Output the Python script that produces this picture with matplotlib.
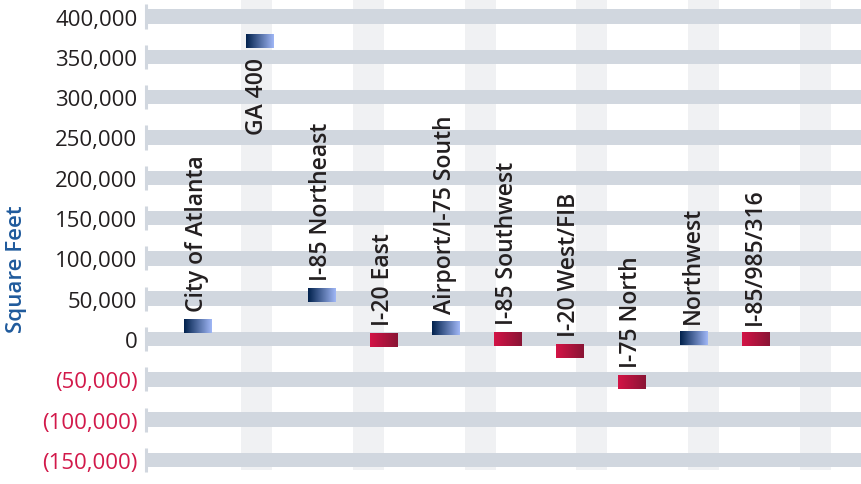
import matplotlib
matplotlib.use("Agg")
import matplotlib.pyplot as plt
import numpy as np
from matplotlib.colors import LinearSegmentedColormap
from matplotlib.patches import Rectangle
from matplotlib.ticker import FuncFormatter
import matplotlib.transforms as mtransforms

# Net absorption by submarket (square feet)
submarkets = [
    "City of Atlanta", "GA 400", "I-85 Northeast", "I-20 East",
    "Airport/I-75 South", "I-85 Southwest", "I-20 West/FIB",
    "I-75 North", "Northwest", "I-85/985/316",
]
absorption = [16500, 369000, 54000, -1500, 13000, -500, -15000, -53000, 1500, -500]
y_ticks = [-150000, -100000, -50000, 0, 50000, 100000, 150000,
           200000, 250000, 300000, 350000, 400000]

BAND = "#d1d7df"
STRIPE = "#f0f1f3"
TEXT = "#231f20"
NEG = "#d2194a"
BLUE_LABEL = "#1f5a9c"

plt.rcParams["font.family"] = ["Open Sans", "DejaVu Sans"]

blue_cmap = LinearSegmentedColormap.from_list("pos", ["#02224e", "#9fb6f5"])
red_cmap = LinearSegmentedColormap.from_list("neg", ["#d31346", "#8a1535"])
gradient = np.linspace(0, 1, 64).reshape(1, -1)

fig = plt.figure(figsize=(8.61, 4.85), dpi=100)
ax = fig.add_axes([147 / 861, 14 / 485, 714 / 861, 471 / 485])

x = np.arange(len(submarkets))
bar_w = 0.45
bar_h = 17000

# light vertical stripes in the background
for i in range(6):
    ax.add_patch(Rectangle((0.1317 + i * 0.1566, 0), 0.0434, 1,
                           transform=ax.transAxes, color=STRIPE, lw=0, zorder=0))

# thick horizontal bands at each tick
for t in y_ticks:
    ax.axhspan(t - 9000, t + 9000, color=BAND, lw=0, zorder=1)

# small stubs left of the plot area
stub = mtransforms.blended_transform_factory(ax.transAxes, ax.transData)
for t in y_ticks:
    ax.plot([-0.002, -0.002], [t - 15000, t + 15000], color=BAND, lw=2.2,
            transform=stub, clip_on=False, zorder=1, solid_capstyle="butt")

for xi, val, name in zip(x, absorption, submarkets):
    cmap = blue_cmap if val >= 0 else red_cmap
    ax.imshow(gradient, extent=[xi - bar_w / 2, xi + bar_w / 2,
                                val - bar_h / 2, val + bar_h / 2],
              aspect="auto", cmap=cmap, zorder=3, interpolation="bilinear")
    if val > 300000:
        ax.annotate(name, (xi, val - bar_h / 2), xytext=(-2, -6),
                    textcoords="offset points", rotation=90, ha="center",
                    va="top", fontsize=16.5, color=TEXT, weight="semibold")
    else:
        ax.annotate(name, (xi, val + bar_h / 2), xytext=(-1, 6),
                    textcoords="offset points", rotation=90, ha="center",
                    va="bottom", fontsize=16.5, color=TEXT, weight="semibold")

ax.set_xlim(-0.823, 10.69)
ax.set_ylim(-162500, 421800)
ax.set_xticks([])
ax.set_yticks(y_ticks)


def fmt(v, pos):
    if v < 0:
        return f"({abs(v):,.0f})"
    return f"{v:,.0f}"


ax.yaxis.set_major_formatter(FuncFormatter(fmt))
ax.tick_params(axis="y", length=0, pad=7, labelsize=16)
for lbl, t in zip(ax.get_yticklabels(), y_ticks):
    lbl.set_color(NEG if t < 0 else TEXT)

for s in ax.spines.values():
    s.set_visible(False)

fig.text(16.5 / 861, 1 - 269 / 485, "Square Feet", rotation=90, ha="center",
         va="center", fontsize=16, color=BLUE_LABEL, weight="semibold")

fig.savefig("out.png", dpi=100)
